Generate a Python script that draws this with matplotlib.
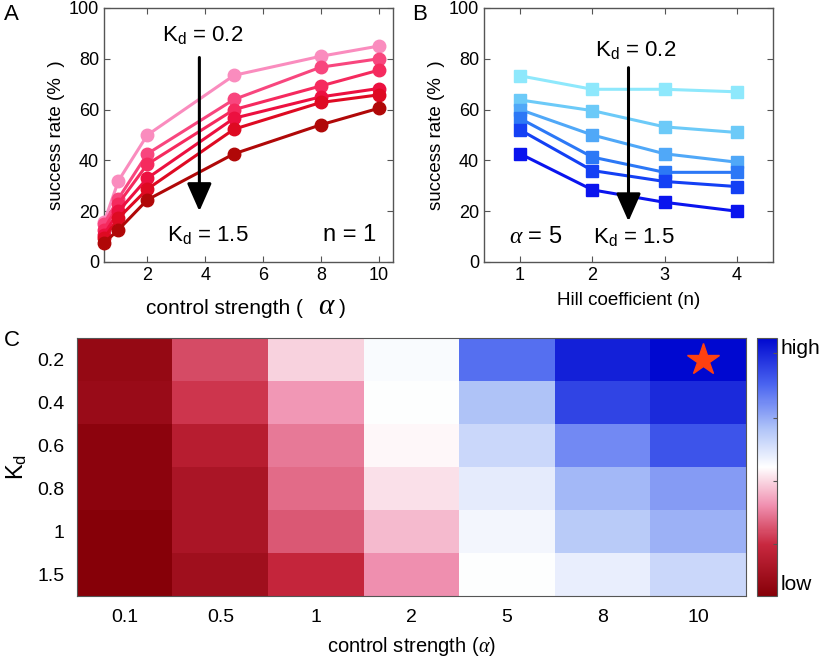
import numpy as np
import matplotlib
matplotlib.use("Agg")
import matplotlib.pyplot as plt
from matplotlib.colors import LinearSegmentedColormap

plt.rcParams['font.family'] = ['Liberation Sans', 'DejaVu Sans']
plt.rcParams['mathtext.fontset'] = 'custom'
plt.rcParams['mathtext.rm'] = 'Liberation Sans'
plt.rcParams['mathtext.it'] = 'Liberation Serif:italic'

# panel A: success rate vs control strength, one line per Kd (0.2 ... 1.5)
alpha_a = [0.5, 1, 2, 5, 8, 10]
rate_a = [
    [15.6, 32.0, 50.0, 73.5, 81.0, 85.0],
    [15.0, 25.0, 42.6, 64.0, 76.7, 80.0],
    [12.7, 23.0, 38.5, 60.0, 69.3, 75.5],
    [10.7, 20.0, 33.0, 56.6, 65.0, 68.3],
    [9.4, 17.3, 28.7, 52.3, 62.8, 65.8],
    [7.5, 12.7, 24.5, 42.6, 54.0, 60.5],
]
colors_a = ['#fa8cbe', '#f8467e', '#f52a5e', '#ec1040', '#de0a22', '#b00808']

# panel B: success rate vs Hill coefficient (alpha = 5)
hill_n = [1, 2, 3, 4]
rate_b = [
    [73.3, 68.0, 68.0, 67.0],
    [63.8, 59.6, 53.2, 51.0],
    [60.0, 50.0, 42.6, 39.3],
    [56.5, 41.3, 35.3, 35.3],
    [52.0, 36.0, 31.7, 29.7],
    [42.6, 28.4, 23.5, 20.0],
]
colors_b = ['#8ee8fc', '#6ccaf8', '#50a8f8', '#2c78f6', '#1440f4', '#0a14ee']

# panel C: heatmap (relative success, low -> high)
alpha_c = ['0.1', '0.5', '1', '2', '5', '8', '10']
kd_c = ['0.2', '0.4', '0.6', '0.8', '1', '1.5']
heat = np.array([
    [0.05, 0.25, 0.44, 0.51, 0.80, 0.95, 1.00],
    [0.06, 0.22, 0.36, 0.50, 0.65, 0.88, 0.93],
    [0.02, 0.15, 0.32, 0.49, 0.60, 0.75, 0.85],
    [0.02, 0.11, 0.30, 0.46, 0.55, 0.67, 0.72],
    [0.00, 0.11, 0.27, 0.41, 0.52, 0.63, 0.68],
    [0.00, 0.08, 0.19, 0.35, 0.50, 0.54, 0.60],
])

fig = plt.figure(figsize=(8.27, 6.59), dpi=100)
W, H = 827, 659


def place(l, t, r, b):
    return fig.add_axes([l / W, 1 - b / H, (r - l) / W, (b - t) / H])


def ftext(x, y, s, **kw):
    # text at pixel position (from top-left)
    return fig.text(x / W, 1 - y / H, s, **kw)


def matlab_box(ax):
    for s in ax.spines.values():
        s.set_color('#555555')
        s.set_linewidth(1.0)
    ax.tick_params(direction='in', top=True, right=True, length=4,
                   color='#555555', labelsize=13)


def kd(v):
    return r'K$_\mathregular{d}$ = ' + v


arrow_style = '-|>,head_length=0.95,head_width=0.42'

# ---- A
ax = place(104, 8, 393, 262)
for y, c in zip(rate_a, colors_a):
    ax.plot(alpha_a, y, '-o', color=c, lw=2.2, ms=9, clip_on=False, zorder=3)
ax.set_xlim(0.5, 10.5)
ax.set_ylim(0, 100)
ax.set_xticks([2, 4, 6, 8, 10])
ax.set_yticks([0, 20, 40, 60, 80, 100])
matlab_box(ax)
ax.set_ylabel('success rate (%  )', fontsize=13.5, labelpad=3)
ftext(146, 309, 'control strength (', ha='left', va='center', fontsize=15)
ftext(327, 306, r'$\alpha$', ha='center', va='center', fontsize=21)
ftext(339, 309, ')', ha='left', va='center', fontsize=15)
ax.annotate('', xy=(3.8, 20), xytext=(3.8, 80.5),
            arrowprops=dict(arrowstyle=arrow_style, lw=2.2, color='k',
                            mutation_scale=18, shrinkA=0, shrinkB=0))
ax.text(3.93, 89.5, kd('0.2'), ha='center', va='center', fontsize=16)
ax.text(4.1, 10.5, kd('1.5'), ha='center', va='center', fontsize=16)
ax.text(9.0, 10.5, 'n = 1', ha='center', va='center', fontsize=17)
ftext(4, 15, 'A', fontsize=16, va='center')

# ---- B
ax = place(484, 8, 773, 262)
for y, c in zip(rate_b, colors_b):
    ax.plot(hill_n, y, '-s', color=c, lw=2.2, ms=8, zorder=3)
ax.set_xlim(0.5, 4.5)
ax.set_ylim(0, 100)
ax.set_xticks(hill_n)
ax.set_yticks([0, 20, 40, 60, 80, 100])
matlab_box(ax)
ax.set_ylabel('success rate (%  )', fontsize=13.5, labelpad=3)
ax.set_xlabel('Hill coefficient (n)', fontsize=13.5, labelpad=6)
ax.annotate('', xy=(2.5, 16), xytext=(2.5, 76.5),
            arrowprops=dict(arrowstyle=arrow_style, lw=2.2, color='k',
                            mutation_scale=18, shrinkA=0, shrinkB=0))
ax.text(2.6, 83.5, kd('0.2'), ha='center', va='center', fontsize=16)
ax.text(2.57, 10, kd('1.5'), ha='center', va='center', fontsize=16)
ax.text(1.22, 10, r'$\alpha$ = 5', ha='center', va='center', fontsize=17)
ftext(412, 15, 'B', fontsize=16, va='center')

# ---- C
cmap = LinearSegmentedColormap.from_list('rwb', [
    (0.0, '#860008'), (0.2, '#c8283f'), (0.35, '#f090b0'), (0.5, '#ffffff'),
    (0.65, '#b0c4f8'), (0.82, '#4a64f0'), (1.0, '#0008d0')])
ax = place(77, 338, 746, 596)
im = ax.imshow(heat, cmap=cmap, vmin=0, vmax=1, aspect='auto',
               interpolation='nearest')
ax.plot(6.05, 0, marker='*', color='#ff4010', ms=24, mec='#ff4010')
ax.set_xticks(range(len(alpha_c)))
ax.set_xticklabels(alpha_c)
ax.set_yticks(range(len(kd_c)))
ax.set_yticklabels(kd_c)
for s in ax.spines.values():
    s.set_color('#555555')
ax.tick_params(length=0, labelsize=14, pad=9)
ax.set_xlabel(r'control strength ($\alpha$)', fontsize=14.5, labelpad=7)
ax.set_ylabel(r'K$_\mathregular{d}$', fontsize=17, labelpad=6)
ftext(4, 340, 'C', fontsize=16, va='center')

cax = place(757, 338, 777, 596)
cb = fig.colorbar(im, cax=cax)
cb.set_ticks([0.2, 0.445, 0.69, 0.94])
cb.ax.tick_params(direction='in', length=3, labelright=False, color='#555555')
cb.outline.set_edgecolor('#555555')
ftext(781, 349, 'high', fontsize=15, va='center')
ftext(781, 585, 'low', fontsize=15, va='center')

fig.savefig('out.png', dpi=100)
